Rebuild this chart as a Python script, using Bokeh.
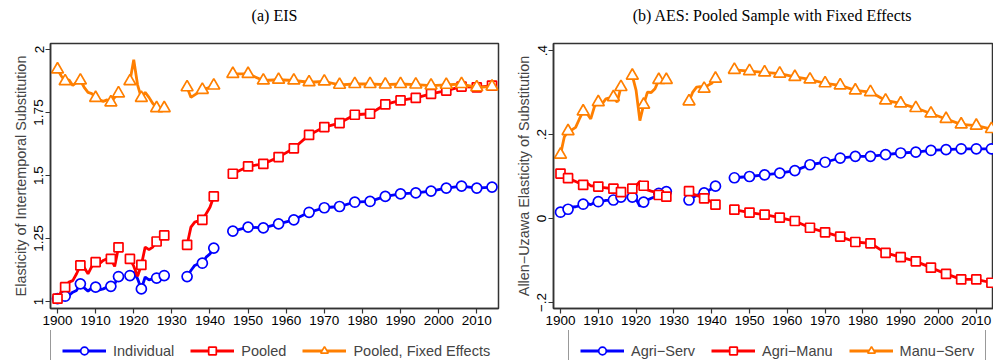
import math
from bokeh.plotting import figure
from bokeh.models import Range1d, FixedTicker, Legend, LegendItem, ColumnDataSource
from bokeh.core.properties import value
from bokeh.layouts import row, column
from bokeh.embed import file_html
from bokeh.resources import INLINE

nan = float("nan")

# ---------------- data ----------------
# yearly observations before WWII (NaN = gap in the series), every 4 years afterwards
years = (list(range(1900, 1917)) + [1917] + list(range(1919, 1929)) + [1929]
         + list(range(1934, 1942)) + [1942] + list(range(1946, 2015, 4)))
marker_years = [1900, 1902, 1906, 1910, 1914, 1916, 1919, 1922, 1926, 1928,
                1934, 1938, 1941] + list(range(1946, 2015, 4))

# (a) EIS
individual = [1.011, 1.015, 1.021, 1.024, 1.037, 1.044, 1.070, 1.054, 1.041, 1.054, 1.057, 1.046, 1.050, 1.057, 1.060, 1.070, 1.099,
              nan,
              1.103, 1.116, 1.090, 1.050, 1.097, 1.086, 1.090, 1.093, 1.096, 1.103,
              nan,
              1.099, 1.123, 1.143, 1.150, 1.152, 1.176, 1.189, 1.212,
              nan,
              1.279, 1.295, 1.292, 1.308, 1.324, 1.354, 1.372, 1.377, 1.394, 1.397, 1.417, 1.427, 1.431, 1.438, 1.450, 1.458, 1.450, 1.454]
pooled = [1.011, 1.040, 1.057, 1.077, 1.083, 1.110, 1.143, 1.135, 1.110, 1.139, 1.156, 1.150, 1.163, 1.170, 1.169, 1.139, 1.215,
          nan,
          1.169, 1.140, 1.100, 1.145, 1.216, 1.206, 1.216, 1.238, 1.242, 1.262,
          nan,
          1.225, 1.295, 1.315, 1.320, 1.324, 1.348, 1.374, 1.417,
          nan,
          1.507, 1.536, 1.546, 1.573, 1.608, 1.661, 1.692, 1.708, 1.741, 1.745, 1.782, 1.798, 1.808, 1.824, 1.837, 1.853, 1.850, 1.857]
pooled_fe = [1.921, 1.895, 1.874, 1.880, 1.857, 1.870, 1.877, 1.850, 1.830, 1.825, 1.808, 1.800, 1.794, 1.800, 1.790, 1.810, 1.826,
             nan,
             1.874, 1.959, 1.860, 1.808, 1.830, 1.810, 1.786, 1.767, 1.766, 1.767,
             nan,
             1.850, 1.810, 1.820, 1.830, 1.840, 1.845, 1.850, 1.857,
             nan,
             1.903, 1.903, 1.877, 1.880, 1.877, 1.870, 1.873, 1.860, 1.863, 1.863, 1.861, 1.863, 1.861, 1.857, 1.860, 1.863, 1.850, 1.853]

# (b) AES
agri_serv = [0.015, 0.019, 0.022, 0.027, 0.028, 0.030, 0.034, 0.036, 0.033, 0.038, 0.040, 0.041, 0.043, 0.043, 0.044, 0.046, 0.051,
             nan,
             0.051, 0.046, 0.029, 0.039, 0.044, 0.048, 0.052, 0.060, 0.062, 0.064,
             nan,
             0.044, 0.050, 0.055, 0.058, 0.061, 0.066, 0.071, 0.077,
             nan,
             0.097, 0.100, 0.104, 0.108, 0.114, 0.128, 0.134, 0.144, 0.148, 0.148, 0.152, 0.156, 0.158, 0.162, 0.164, 0.166, 0.166, 0.166]
agri_manu = [0.107, 0.100, 0.096, 0.092, 0.088, 0.084, 0.080, 0.085, 0.078, 0.077, 0.076, 0.074, 0.073, 0.072, 0.071, 0.068, 0.063,
             nan,
             0.071, 0.078, 0.088, 0.078, 0.068, 0.065, 0.063, 0.056, 0.055, 0.052,
             nan,
             0.065, 0.058, 0.055, 0.052, 0.048, 0.044, 0.040, 0.033,
             nan,
             0.021, 0.014, 0.009, 0.002, -0.006, -0.022, -0.033, -0.043, -0.056, -0.059, -0.082, -0.092, -0.102, -0.117, -0.132, -0.145, -0.145, -0.153]
manu_serv = [0.152, 0.194, 0.208, 0.211, 0.217, 0.237, 0.255, 0.250, 0.237, 0.267, 0.277, 0.273, 0.285, 0.287, 0.289, 0.277, 0.313,
             nan,
             0.340, 0.305, 0.233, 0.271, 0.301, 0.300, 0.309, 0.330, 0.330, 0.330,
             nan,
             0.279, 0.301, 0.313, 0.314, 0.309, 0.317, 0.322, 0.333,
             nan,
             0.354, 0.351, 0.348, 0.345, 0.337, 0.331, 0.322, 0.317, 0.305, 0.301, 0.281, 0.274, 0.263, 0.250, 0.237, 0.224, 0.221, 0.213]

x_ticks = list(range(1900, 2011, 10))
left_y_ticks = [1, 1.25, 1.5, 1.75, 2]
left_y_labels = ["1", "1.25", "1.5", "1.75", "2"]
right_y_ticks = [-0.2, 0, 0.2, 0.4]
right_y_labels = ["\u2212.2", "0", ".2", ".4"]

left_title = "(a) EIS"
right_title = "(b) AES: Pooled Sample with Fixed Effects"
left_names = ["Individual", "Pooled", "Pooled, Fixed Effects"]
right_names = ["Agri\u2212Serv", "Agri\u2212Manu", "Manu\u2212Serv"]

# ---------------- styling ----------------
BLUE = "#0000FF"
RED = "#FF0000"
ORANGE = "#FF7F00"
SANS = "Liberation Sans"
SERIF = "Liberation Serif"
AX = "#333333"
STYLES = [(BLUE, "circle", 10), (RED, "square", 9), (ORANGE, "triangle", 12)]
LINE_W = 2.8
MARK_W = 1.7


def blank_fig(width, height):
    f = figure(width=width, height=height, output_backend="svg", toolbar_location=None,
               x_range=Range1d(0, width), y_range=Range1d(0, height),
               min_border=0, min_border_left=0, min_border_right=0,
               min_border_top=0, min_border_bottom=0)
    f.xaxis.visible = False
    f.yaxis.visible = False
    f.xgrid.visible = False
    f.ygrid.visible = False
    f.outline_line_color = None
    f.background_fill_color = "white"
    f.border_fill_color = "white"
    return f


def make_title(text, width, center_x):
    t = blank_fig(width, 42)
    t.text(x=[center_x], y=[27], text=[text], text_align="center", text_baseline="middle",
           text_font=value(SERIF), text_font_size="16px", text_color="black")
    return t


def make_panel(ylabel, series, yr, xr, yticks, ylabels, width,
               border_left, border_right):
    p = figure(width=width, height=288, output_backend="svg", toolbar_location=None,
               x_range=Range1d(*xr), y_range=Range1d(*yr),
               min_border_left=border_left, min_border_right=border_right,
               min_border_top=1, min_border_bottom=22)
    p.xgrid.visible = False
    p.ygrid.visible = False
    p.outline_line_color = AX
    p.outline_line_width = 1.5
    p.background_fill_color = "white"
    p.border_fill_color = "white"

    for ax in (p.xaxis, p.yaxis):
        ax.axis_line_color = AX
        ax.axis_line_width = 1.5
        ax.major_tick_line_color = AX
        ax.major_tick_line_width = 1.2
        ax.major_tick_out = 5
        ax.major_tick_in = 0
        ax.minor_tick_line_color = None
        ax.major_label_text_font = SANS
        ax.major_label_text_font_size = "13.5px"
        ax.major_label_text_color = "black"
        ax.major_label_standoff = 2

    p.xaxis.ticker = FixedTicker(ticks=x_ticks)
    p.xaxis.major_label_overrides = {t: str(t) for t in x_ticks}
    p.yaxis.ticker = FixedTicker(ticks=yticks)
    p.yaxis.major_label_overrides = {t: l for t, l in zip(yticks, ylabels)}
    p.yaxis.major_label_orientation = "vertical"
    p.yaxis.axis_label = ylabel
    p.yaxis.axis_label_text_font = SANS
    p.yaxis.axis_label_text_font_size = "14.4px"
    p.yaxis.axis_label_text_font_style = "normal"
    p.yaxis.axis_label_standoff = 3

    for vals, (col, mk, sz) in zip(series, STYLES):
        src = ColumnDataSource(dict(x=years, y=vals))
        my = [vals[years.index(y)] for y in marker_years]
        msrc = ColumnDataSource(dict(x=marker_years, y=my))
        p.line("x", "y", source=src, line_color=col, line_width=LINE_W)
        p.scatter("x", "y", source=msrc, marker=mk, size=sz, line_color=col,
                  line_width=MARK_W, fill_color="white")
    return p


def make_legend(names, width, box_x):
    lp = blank_fig(width, 30)
    items = []
    for name, (col, mk, sz) in zip(names, STYLES):
        # key glyphs only: one point placed outside the visible range
        lr = lp.line(x=[-50, -40], y=[-50, -40], line_color=col, line_width=LINE_W)
        mr = lp.scatter(x=[-50], y=[-50], marker=mk, size=sz, line_color=col,
                        line_width=MARK_W, fill_color="white")
        items.append(LegendItem(label=name, renderers=[lr, mr]))
    leg = Legend(items=items, orientation="horizontal", location=(box_x, -12),
                 border_line_color=AX, border_line_width=1,
                 label_text_font=SANS, label_text_font_size="14.5px",
                 glyph_width=44, glyph_height=19, spacing=16, padding=11,
                 margin=0, label_standoff=7, background_fill_color="white")
    lp.add_layout(leg)
    return lp


t1 = make_title(left_title, 500, 274)
t2 = make_title(right_title, 493, 272)
p1 = make_panel("Elasticity of Intertemporal Substitution",
                [individual, pooled, pooled_fe],
                (0.9722, 2.0238), (1898.16, 2015.7), left_y_ticks, left_y_labels,
                500, 50, 2)
p2 = make_panel("Allen\u2212Uzawa Elasticity of Substitution",
                [agri_serv, agri_manu, manu_serv],
                (-0.2143, 0.4167), (1898.15, 2014.55), right_y_ticks, right_y_labels,
                493, 53, 0)
l1 = make_legend(left_names, 500, 50)
l2 = make_legend(right_names, 493, 68)

layout = column(row(t1, t2), row(p1, p2), row(l1, l2))
open("out.html", "w").write(file_html(layout, INLINE))
